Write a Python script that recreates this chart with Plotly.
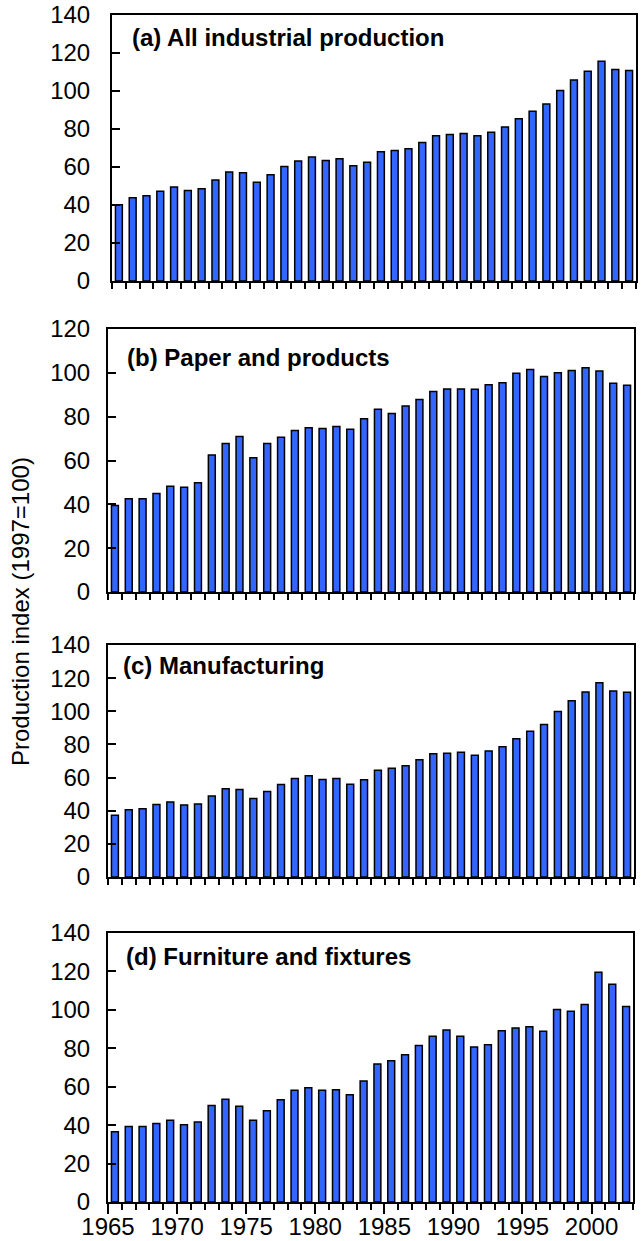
import plotly.graph_objects as go

years = list(range(1965, 2003))

all_industrial = [40.0, 43.7, 44.8, 47.1, 49.4, 47.6, 48.4, 53.0, 57.2, 56.9,
                  51.9, 55.8, 60.1, 63.1, 65.2, 63.3, 64.2, 60.6, 62.4, 67.9,
                  68.6, 69.5, 72.7, 76.3, 77.0, 77.5, 76.3, 78.2, 80.9, 85.2,
                  89.2, 93.0, 100.1, 105.6, 110.2, 115.4, 111.1, 110.6]

paper_products = [39.5, 42.5, 42.5, 44.9, 48.3, 47.8, 49.8, 62.5, 67.7, 70.9,
                  61.2, 67.7, 70.6, 73.7, 74.9, 74.6, 75.5, 74.3, 79.1, 83.4,
                  81.5, 84.9, 87.8, 91.5, 92.6, 92.6, 92.5, 94.6, 95.5, 99.8,
                  101.5, 98.3, 100.0, 101.1, 102.3, 100.8, 95.2, 94.3]

manufacturing = [37.2, 40.6, 41.2, 43.7, 45.3, 43.5, 44.1, 48.9, 53.2, 52.8,
                 47.3, 51.6, 55.8, 59.5, 61.1, 58.9, 59.5, 56.0, 58.7, 64.4,
                 65.6, 67.2, 70.7, 74.3, 74.7, 75.3, 73.5, 76.1, 78.6, 83.5,
                 87.9, 92.0, 99.9, 106.4, 111.7, 117.2, 112.3, 111.5]

furniture = [36.5, 39.3, 39.3, 40.9, 42.6, 40.2, 41.6, 50.2, 53.5, 49.8,
             42.6, 47.5, 53.2, 58.1, 59.5, 58.1, 58.4, 55.8, 63.0, 71.8,
             73.5, 76.7, 81.4, 86.3, 89.5, 86.3, 80.7, 81.9, 89.1, 90.5,
             91.2, 88.9, 100.2, 99.3, 102.8, 119.6, 113.3, 101.8]

panel_titles = ["(a) All industrial production", "(b) Paper and products",
                "(c) Manufacturing", "(d) Furniture and fixtures"]
y_max = [140, 120, 140, 140]
y_title = "Production index (1997=100)"
year_ticks = [1965, 1970, 1975, 1980, 1985, 1990, 1995, 2000]

W, H = 644, 1241
FONT = "Arial, Liberation Sans, sans-serif"
series = [all_industrial, paper_products, manufacturing, furniture]

# pixel boxes: (left, right, top, bottom)
boxes = [(112, 636, 14.5, 281), (108, 634, 329, 592),
         (108, 634, 645, 877), (108, 633, 933, 1202)]
label_pos = [(130, 37), (125, 357), (121, 665), (124, 956)]

fig = go.Figure()
annotations = []
for i, (vals, box) in enumerate(zip(series, boxes)):
    n = "" if i == 0 else str(i + 1)
    fig.add_trace(go.Bar(
        x=years, y=vals, offset=0.25, width=0.5,
        marker=dict(color="#3366ff", line=dict(color="black", width=1.5)),
        xaxis="x" + n, yaxis="y" + n, showlegend=False,
    ))
    l, r, t, b = box
    last = (i == 3)
    fig.layout["xaxis" + n] = dict(
        domain=[l / W, r / W], anchor="y" + n, range=[1965, 2003],
        showline=True, linecolor="black", linewidth=2, mirror=True,
        showgrid=False, zeroline=False,
        ticks="outside", ticklen=10, tickwidth=2, tickcolor="black",
        tickmode="array", tickvals=year_ticks,
        ticktext=[str(v) for v in year_ticks] if last else [""] * len(year_ticks),
        showticklabels=last,
        minor=dict(ticks="outside", ticklen=6, tickwidth=2, tickcolor="black",
                   dtick=1, tick0=1965, showgrid=False),
        tickfont=dict(family=FONT, size=24, color="black"),
        ticklabelstandoff=-8,
        automargin=False, fixedrange=True,
    )
    fig.layout["yaxis" + n] = dict(
        domain=[1 - b / H, 1 - t / H], anchor="x" + n, range=[0, y_max[i]],
        showline=True, linecolor="black", linewidth=2, mirror=True,
        showgrid=False, zeroline=False,
        ticks="inside", ticklen=8, tickwidth=2, tickcolor="black",
        dtick=20, tick0=0,
        tickfont=dict(family=FONT, size=24, color="black"),
        ticklabelstandoff=(15 if i == 0 else 11),
        automargin=False, fixedrange=True,
    )
    lx, ly = label_pos[i]
    annotations.append(dict(
        text="<b>" + panel_titles[i] + "</b>", x=lx / W, y=1 - ly / H,
        xref="paper", yref="paper", xanchor="left", yanchor="middle",
        showarrow=False, font=dict(family=FONT, size=24, color="black"),
    ))

annotations.append(dict(
    text=y_title, x=20 / W, y=1 - 612 / H, xref="paper", yref="paper",
    xanchor="center", yanchor="middle", textangle=-90, showarrow=False,
    font=dict(family=FONT, size=24, color="black"),
))

fig.update_layout(
    width=W, height=H, margin=dict(l=0, r=0, t=0, b=0),
    paper_bgcolor="white", plot_bgcolor="white",
    annotations=annotations, bargap=0,
)

fig.write_html(
    "out.html",
    config={"displayModeBar": False, "staticPlot": True},
    post_script="document.body.style.margin='0';document.body.style.overflow='hidden';",
)
